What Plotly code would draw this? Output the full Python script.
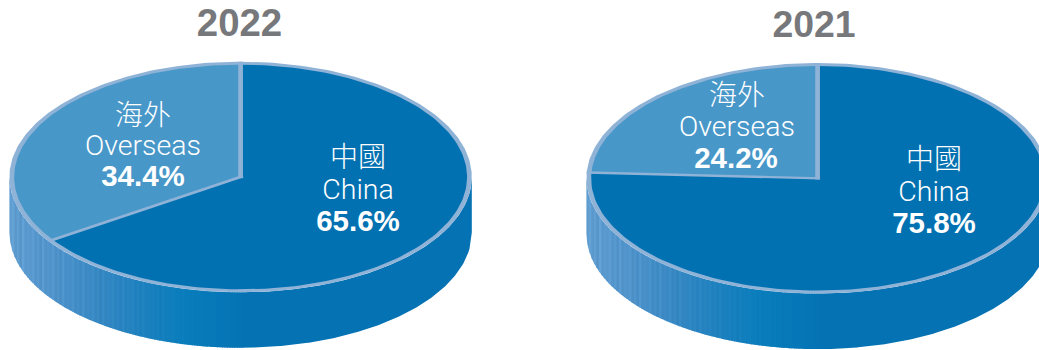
import numpy as np
import plotly.graph_objects as go

# Revenue split by region
years = ["2022", "2021"]
labels_zh = ["中國", "海外"]
labels_en = ["China", "Overseas"]
china_share = [65.6, 75.8]
overseas_share = [34.4, 24.2]

# Disc geometry in page pixels
CENTRE_X = [240.6, 817.6]
CENTRE_Y = [177.0, 178.3]
RADIUS_X = 231.2
RADIUS_Y = 115.3
DEPTH = 55.5
RIM_X = 0.0205
RIM_Y = 0.026

TITLE_POS = [(239.5, 26), (814, 28)]
TITLE_SIZE = [38.4, 37.4]
ZH_POS = [[(358, 160), (143, 118)], [(934, 162), (737, 98)]]
EN_POS = [[(358, 192), (143, 148)], [(934, 194), (737, 129)]]
PCT_POS = [[(358, 224), (143, 179)], [(934, 226), (736, 161)]]

CHINA_BLUE = "#0271b1"
OVERSEAS_BLUE = "#4897c9"
RIM_BLUE = "#8fb2d7"
WALL_STOPS = [(0.0, (96, 157, 208)), (0.10, (78, 146, 202)), (0.20, (52, 135, 194)),
              (0.30, (26, 128, 190)), (0.38, (9, 125, 188)), (0.50, (5, 116, 181)), (1.0, (4, 114, 179))]
STREAK = [0, 7, -3, 4, -5, 9, -2, 2]


def wall_colour(frac, step):
    stops = np.array([s[0] for s in WALL_STOPS])
    channels = [np.interp(frac, stops, [s[1][i] for s in WALL_STOPS]) for i in range(3)]
    fade = max(0.0, 1 - frac / 0.45)
    lift = STREAK[step % len(STREAK)] * fade
    return "rgb(%d,%d,%d)" % tuple(min(255, int(c + lift)) for c in channels)


def polygon(x, y, colour):
    return go.Scatter(x=x, y=y, mode="lines", fill="toself", fillcolor=colour,
                      line=dict(width=0, color=colour), hoverinfo="skip", showlegend=False)


def disc_xy(u, v, cx, cy):
    # u, v are coordinates on the unit disc, v pointing up the page
    return cx + np.asarray(u) * RADIUS_X, cy - np.asarray(v) * RADIUS_Y


def wedge(start, end, cx, cy, colour):
    # Angles run counter-clockwise from twelve o'clock, in degrees
    theta = np.radians(np.linspace(start, end, 160))
    u = np.r_[0, -np.sin(theta) * (1 - RIM_X)]
    v = np.r_[0, np.cos(theta) * (1 - RIM_Y)]
    x, y = disc_xy(u, v, cx, cy)
    return polygon(x, y, colour)


def spoke(angle, cx, cy):
    a = np.radians(angle)
    dx, dy = -np.sin(a), np.cos(a)
    nx, ny = -dy, dx
    h = RIM_X / 2
    u = [-dx * h + nx * h, dx + nx * h, dx - nx * h, -dx * h - nx * h]
    v = [-dy * h + ny * h, dy + ny * h, dy - ny * h, -dy * h - ny * h]
    x, y = disc_xy(u, v, cx, cy)
    return polygon(x, y, RIM_BLUE)


def wall(cx, cy):
    traces = []
    width = 2.5
    edges = np.arange(cx - RADIUS_X, cx + 1, width)
    for i, left in enumerate(edges):
        xs = np.linspace(left, min(left + width + 1, cx + RADIUS_X), 5)
        low = cy + RADIUS_Y * np.sqrt(np.clip(1 - ((xs - cx) / RADIUS_X) ** 2, 0, 1))
        x = np.r_[xs, xs[::-1]]
        y = np.r_[low, (low + DEPTH)[::-1]]
        traces.append(polygon(x, y, wall_colour((left - cx + RADIUS_X) / (2 * RADIUS_X), i)))
    xs = np.linspace(edges[-1] + width, cx + RADIUS_X, 200)
    low = cy + RADIUS_Y * np.sqrt(np.clip(1 - ((xs - cx) / RADIUS_X) ** 2, 0, 1))
    traces.append(polygon(np.r_[xs, xs[::-1]], np.r_[low, (low + DEPTH)[::-1]], wall_colour(1.0, 0)))
    return traces


def label(pos, text, size, family, colour="#ffffff", weight="normal"):
    return go.Scatter(x=[pos[0]], y=[pos[1]], mode="text", text=[text], textposition="middle center",
                      textfont=dict(size=size, family=family, color=colour, weight=weight),
                      hoverinfo="skip", showlegend=False)


fig = go.Figure()
for p, year in enumerate(years):
    cx, cy = CENTRE_X[p], CENTRE_Y[p]
    fig.add_traces(wall(cx, cy))

    t = np.radians(np.linspace(0, 360, 361))
    ox, oy = disc_xy(np.sin(t), np.cos(t), cx, cy)
    fig.add_trace(polygon(ox, oy, RIM_BLUE))

    sweep = overseas_share[p] * 3.6
    fig.add_trace(wedge(sweep, 360, cx, cy, CHINA_BLUE))
    fig.add_trace(wedge(0, sweep, cx, cy, OVERSEAS_BLUE))
    fig.add_trace(spoke(0, cx, cy))
    fig.add_trace(spoke(sweep, cx, cy))

    fig.add_trace(label(TITLE_POS[p], year, TITLE_SIZE[p], "Liberation Sans", "#77787b", "bold"))
    values = [china_share[p], overseas_share[p]]
    for k in range(2):
        fig.add_trace(label(ZH_POS[p][k], labels_zh[k], 28, "Noto Sans CJK TC", weight=300))
        fig.add_trace(label(EN_POS[p][k], labels_en[k], 28.5, "Roboto", weight=300))
        fig.add_trace(label(PCT_POS[p][k], f"{values[k]:.1f}%", 29.5, "Liberation Sans", weight="bold"))

fig.update_layout(
    width=1039, height=350, margin=dict(l=0, r=0, t=0, b=0),
    paper_bgcolor="#ffffff", plot_bgcolor="#ffffff",
    xaxis=dict(range=[0, 1039], visible=False, fixedrange=True),
    yaxis=dict(range=[350, 0], visible=False, fixedrange=True),
)
fig.write_html("out.html", config={"displayModeBar": False})
